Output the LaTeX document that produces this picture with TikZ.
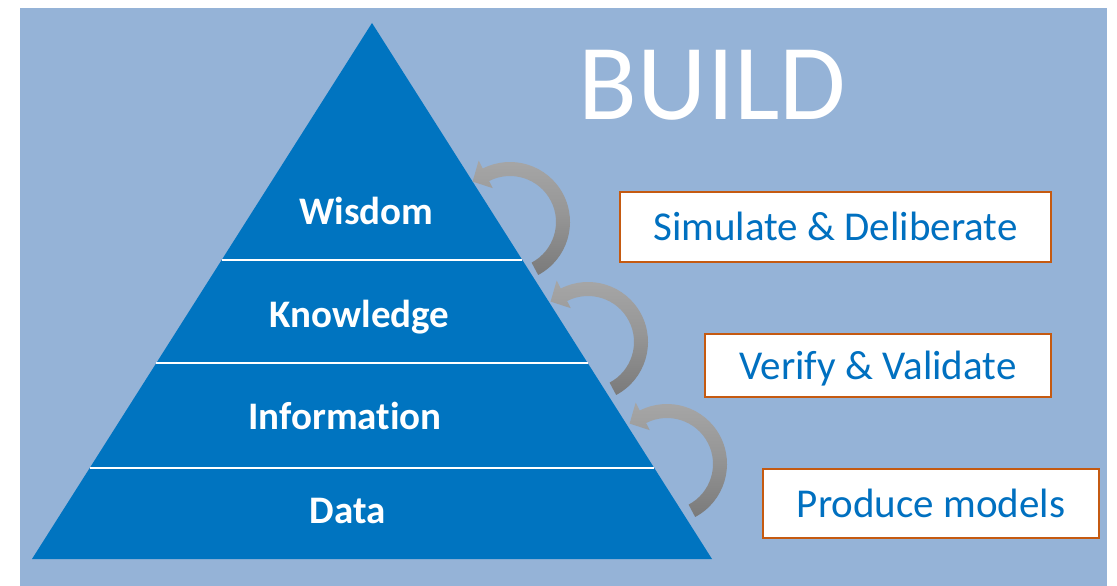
\documentclass[tikz,border=0pt]{standalone}
\usepackage{fontspec}
\setmainfont{Carlito}[Ligatures=NoCommon]
\definecolor{bg}{HTML}{95B3D7}
\definecolor{pyr}{HTML}{0074C0}
\definecolor{txtblue}{HTML}{0070C0}
\definecolor{border}{HTML}{C55A11}
\definecolor{arrlight}{HTML}{A8A8A8}
\definecolor{arrdark}{HTML}{7A7A7A}
\newcommand\grayarrow[2]{%
  \begin{scope}[shift={(#1,#2)}]
    \shade[top color=arrlight, bottom color=arrdark, middle color=arrlight!60!arrdark]
      (62:60) arc[start angle=62, end angle=-117, radius=60]
      -- (-117:69) -- (-37.4,-40.4) -- (-117:38) -- (-117:46)
      arc[start angle=-117, end angle=62, radius=46] -- cycle;
  \end{scope}}
\begin{document}
\begin{tikzpicture}[x=1pt,y=-1pt,
  lbl/.style={anchor=base, inner sep=0pt, text=white, font=\fontsize{39}{39}\selectfont\bfseries},
  boxtxt/.style={draw=border, line width=2pt, fill=white, text=txtblue, inner sep=0pt,
    text height=27pt, text depth=0pt, font=\fontsize{41}{41}\selectfont},
  divider/.style={white, line width=2.2pt}]
\fill[white] (0,0) rectangle (1117,586);
\useasboundingbox (0,0) rectangle (1117,586);
\fill[bg] (20,8) rectangle (1107,586);
\fill[pyr] (372,23) -- (712,559) -- (32,559) -- cycle;
\draw[divider] (221.7,260) -- (522.3,260);
\draw[divider] (156.3,363) -- (587.7,363);
\draw[divider] (89.7,468) -- (654.3,468);
\node[lbl] (wisdom) at (366.5,224) {Wisdom};
\node[lbl] (knowledge) at (359.5,327) {Knowledge};
\node[lbl] (information) at (345,429) {Information};
\node[lbl] (data) at (347.5,523) {Data};
\node[anchor=base, inner sep=0pt, text=white, font=\fontsize{108}{108}\selectfont] (build) at (712.5,120) {BUILD};
\grayarrow{510}{222}
\grayarrow{588}{342}
\grayarrow{667}{464}
\node[boxtxt, minimum width=431pt, minimum height=70pt] (simulate) at (835.5,227) {Simulate \& Deliberate};
\node[boxtxt, minimum width=346pt, minimum height=63pt] (verify) at (878,365.5) {Verify \& Validate};
\node[boxtxt, minimum width=336pt, minimum height=69pt] (produce) at (931,503.5) {Produce models};
\end{tikzpicture}
\end{document}
